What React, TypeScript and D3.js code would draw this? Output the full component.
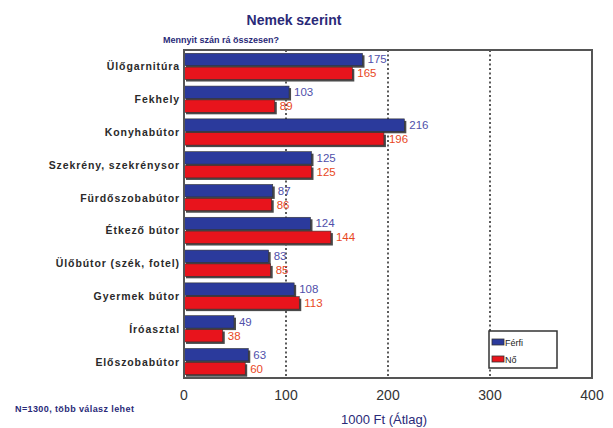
import * as d3 from "d3";

const categories = [
  "Ülőgarnitúra",
  "Fekhely",
  "Konyhabútor",
  "Szekrény, szekrénysor",
  "Fürdőszobabútor",
  "Étkező bútor",
  "Ülőbútor (szék, fotel)",
  "Gyermek bútor",
  "Íróasztal",
  "Előszobabútor",
];
const series = ["Férfi", "Nő"];
const ferfi = [175, 103, 216, 125, 87, 124, 83, 108, 49, 63];
const no = [165, 89, 196, 125, 86, 144, 85, 113, 38, 60];
const xTicks = [0, 100, 200, 300, 400];

const W = 613;
const H = 428;
const left = 184;
const right = 592;
const top = 50;
const bottom = 378;

const barColors = ["#2b3a9c", "#e8141c"];
const labelColors = ["#5050aa", "#e8481e"];
const font = "'Liberation Sans', Arial, sans-serif";

export default function App() {
  const x = d3.scaleLinear().domain([0, 400]).range([left, right]);
  const y = d3
    .scaleBand<string>()
    .domain(categories)
    .range([top, bottom])
    .paddingInner(0.2)
    .paddingOuter(0.1);
  const ys = d3
    .scaleBand<string>()
    .domain(series)
    .range([0, y.bandwidth()])
    .paddingInner(0.1);
  const values = [ferfi, no];

  return (
    <svg
      width={W}
      height={H}
      style={{ position: "absolute", left: 0, top: 0, background: "#fff" }}
      fontFamily={font}
    >
      <text
        x={294}
        y={25}
        textAnchor="middle"
        fontSize={14}
        fontWeight="bold"
        fill="#2a2a78"
      >
        Nemek szerint
      </text>
      <text x={163} y={43} fontSize={9} fontWeight="bold" fill="#2a2a78">
        Mennyit szán rá összesen?
      </text>

      {/* grid */}
      {xTicks.slice(1, -1).map((t) => (
        <line
          key={t}
          x1={x(t)}
          x2={x(t)}
          y1={top}
          y2={bottom}
          stroke="#333"
          strokeWidth={1.6}
          strokeDasharray="2 2.5"
        />
      ))}

      {/* bars */}
      {categories.map((c, i) =>
        series.map((s, k) => {
          const v = values[k][i];
          const by = (y(c) ?? 0) + (ys(s) ?? 0);
          const bh = ys.bandwidth();
          return (
            <g key={c + s}>
              <rect
                x={x(0) + 2}
                y={by + 2}
                width={x(v) - x(0)}
                height={bh}
                fill="#4a4a4a"
              />
              <rect
                x={x(0)}
                y={by}
                width={x(v) - x(0)}
                height={bh}
                fill={barColors[k]}
                stroke="#333"
                strokeWidth={0.6}
              />
              <text
                x={x(v) + 5}
                y={by + bh / 2 + 4}
                fontSize={11.5}
                fill={labelColors[k]}
              >
                {v}
              </text>
            </g>
          );
        })
      )}

      {/* plot frame */}
      <rect
        x={left}
        y={top}
        width={right - left}
        height={bottom - top}
        fill="none"
        stroke="#555"
        strokeWidth={2}
      />

      {/* category labels */}
      {categories.map((c) => (
        <text
          key={c}
          x={left - 4}
          y={(y(c) ?? 0) + y.bandwidth() / 2 + 4}
          textAnchor="end"
          fontSize={10.5}
          fontWeight="bold"
          letterSpacing={0.9}
          fill="#2a2a2a"
        >
          {c}
        </text>
      ))}

      {/* x ticks */}
      {xTicks.map((t) => (
        <text
          key={t}
          x={x(t)}
          y={400}
          textAnchor="middle"
          fontSize={14}
          fill="#333"
        >
          {t}
        </text>
      ))}
      <text x={384} y={424} textAnchor="middle" fontSize={13} fill="#2a2a78">
        1000 Ft (Átlag)
      </text>
      <text
        x={15}
        y={412}
        fontSize={9}
        fontWeight="bold"
        letterSpacing={0.4}
        fill="#2a2a78"
      >
        N=1300, több válasz lehet
      </text>

      {/* legend */}
      <rect
        x={489}
        y={331}
        width={68}
        height={37}
        fill="#fff"
        stroke="#333"
        strokeWidth={1.5}
      />
      {series.map((s, k) => (
        <g key={s}>
          <rect
            x={492}
            y={339 + k * 17}
            width={12}
            height={6}
            fill={barColors[k]}
            stroke="#333"
            strokeWidth={0.8}
          />
          <text x={505} y={346 + k * 17} fontSize={9} fill="#222">
            {s}
          </text>
        </g>
      ))}
    </svg>
  );
}
